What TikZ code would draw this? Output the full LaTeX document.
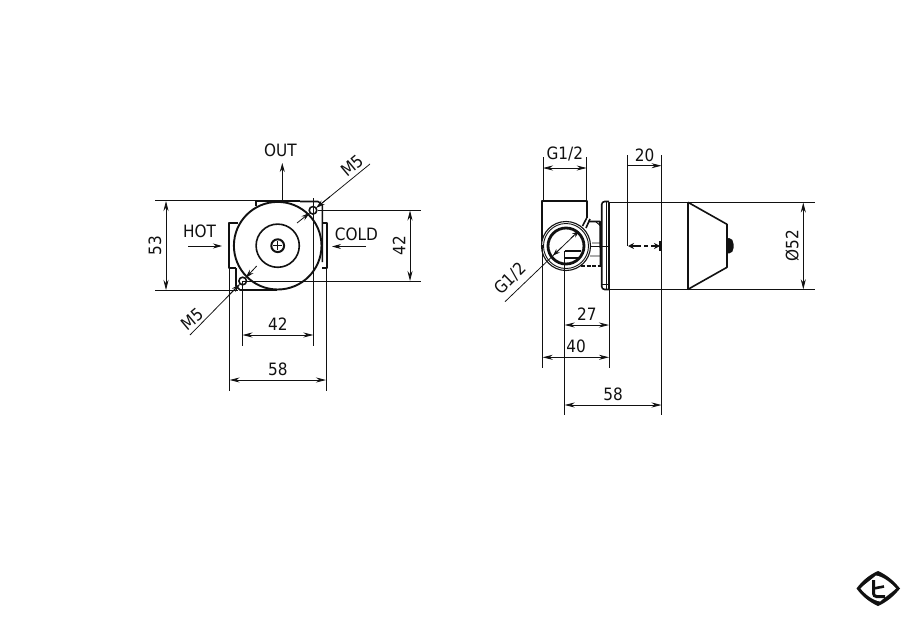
\documentclass[tikz,border=0pt]{standalone}
\usepackage{fontspec}
\setmainfont[FakeStretch=0.9]{DejaVu Sans}
\usetikzlibrary{arrows.meta}
\definecolor{ink}{HTML}{111111}
\tikzset{
  outline/.style={draw=ink,line width=1.6pt,line join=round},
  fine/.style={draw=ink,line width=0.9pt},
  extline/.style={draw=ink,line width=0.75pt},
  dimline/.style={draw=ink,line width=0.8pt,{Stealth[length=10pt,width=5pt]}-{Stealth[length=10pt,width=5pt]}},
  oneway/.style={draw=ink,line width=0.8pt,-{Stealth[length=9pt,width=5pt]}},
  lab/.style={font=\fontsize{17}{20}\selectfont,text=ink,inner sep=0pt}
}
\begin{document}
\begin{tikzpicture}[x=1pt,y=-1pt]
\useasboundingbox (0,0) rectangle (922,632);
\fill[white] (0,0) rectangle (922,632);
% ---------- left view: body
\draw[outline] (255.7,206) -- (255.7,200.7) -- (300,200.7);
\draw[outline] (300,201.5) -- (318,201.5) -- (322.3,205) -- (322.3,262);
\draw[outline] (236,268) -- (236,286) -- (240,290) -- (277,290);
\draw[outline] (238,223) -- (228.7,223) -- (228.7,268) -- (236,268);
\draw[outline,line width=1.1pt] (322,268) -- (327,268) -- (327,223) -- (323,223);
\draw[outline,line width=1.9pt] (277.7,245.7) circle[radius=43.8];
\draw[outline] (277.7,245.7) circle[radius=21.6];
\draw[outline,line width=2pt] (277.7,245.7) circle[radius=6.4];
\draw[fine,line width=1.4pt] (273,245.7) -- (282.4,245.7) (277.7,241) -- (277.7,250.4);
\draw[outline] (313,210.3) circle[radius=3.8];
\draw[outline] (242.7,281) circle[radius=3.8];
% extension lines
\draw[extline] (155,200.7) -- (255.7,200.7);
\draw[extline] (155,290) -- (238,290);
\draw[extline] (318,210.3) -- (421,210.3);
\draw[extline] (243,281) -- (421,281);
\draw[extline] (229.6,268) -- (229.6,391);
\draw[extline] (242.5,281) -- (242.5,346);
\draw[extline] (313.3,198) -- (313.3,346);
\draw[extline] (326,268) -- (326,391);
% dimensions
\draw[dimline] (166,201) -- (166,290) node[midway,lab,rotate=90,yshift=11pt] {53};
\draw[dimline] (410,210.5) -- (410,281) node[midway,lab,rotate=90,yshift=11pt] {42};
\draw[dimline] (242.5,335) -- (313.3,335) node[midway,lab,yshift=11pt] {42};
\draw[dimline] (229.6,380) -- (326,380) node[midway,lab,yshift=11pt] {58};
% arrows and labels
\draw[oneway] (282.3,200.7) -- (282.3,163);
\node[lab] (out) at (280.5,150) {OUT};
\draw[oneway] (188,246) -- (222,246);
\node[lab] (hot) at (199.5,231.5) {HOT};
\draw[oneway] (366,246.5) -- (332,246.5);
\node[lab] (cold) at (356.5,234) {COLD};
% M5 leaders
\draw[extline] (370,164) -- (318.5,206);
\draw[oneway] (330,196.6) -- (316,208);
\draw[oneway] (297,223) -- (310,212.7);
\node[lab,rotate=40] (m5a) at (352,165.5) {M5};
\draw[extline] (190,335) -- (239,285);
\draw[oneway] (229,295) -- (240,284);
\draw[oneway] (256.7,266) -- (245.5,278);
\node[lab,rotate=40] (m5b) at (192,319) {M5};
% ---------- right view
\draw[outline] (542,245) -- (542,201) -- (586.7,201) -- (586.7,218);
\draw[outline] (586.7,218) -- (582.5,226);
\draw[outline] (590,219) -- (586,228);
\draw[outline] (588,221.5) -- (600,221.5) -- (600.5,266);
\draw[fine] (592,243) -- (601,243) (590,246.5) -- (609,246.5) (590,256) -- (601,256) (596,222) -- (601,226);
\draw[outline,dash pattern=on 4pt off 1.5pt] (581,266) -- (601,266);
\draw[outline,rounded corners=3pt] (609,201.5) -- (601.7,201.5) -- (601.7,289.5) -- (609,289.5);
\draw[fine] (606,201.5) -- (606,289.5);
\draw[fine] (602,284) -- (609,284);
\draw[outline] (609,202.3) -- (688,202.3) -- (688,289.3) -- (609,289.3) -- cycle;
\draw[outline] (688,202.3) -- (727,224.3) -- (727,267.3) -- (688,289.3);
\fill[ink,rounded corners=2pt] (727,238) -- (731,238) -- (733.5,242) -- (733.5,250) -- (731,253.5) -- (727,253.5) -- cycle;
\filldraw[white,draw=ink,line width=1.1pt] (566,246) circle[radius=24.5];
\draw[fine] (566,246) circle[radius=22.5];
\draw[ink,line width=2.8pt] (566,246) circle[radius=18];
\draw[fine,line width=1.3pt] (564.7,251) -- (581,251) (564.7,258) -- (579,258);
\draw[extline] (543,157) -- (543,201);
\draw[extline] (586.7,157) -- (586.7,201);
\draw[dimline] (543,168) -- (586.7,168) node[midway,lab,yshift=14pt] {G1/2};
\draw[extline] (627.3,155) -- (627.3,246);
\draw[extline] (661.5,155) -- (661.5,415);
\draw[draw=ink,line width=0.8pt,-{Stealth[length=10pt,width=5pt]}] (627.3,165.7) -- (661.5,165.7);
\node[lab] (v20) at (644.5,155) {20};
% dashed centre mark
\draw[ink,line width=2.2pt,dash pattern=on 4pt off 3pt] (637,246) -- (653,246);
\draw[ink,line width=1.2pt,{Stealth[length=6pt,width=6pt]}-] (628,246) -- (637,246);
\draw[ink,line width=1.2pt,-{Stealth[length=6pt,width=6pt]}] (651,246) -- (660,246);
\draw[ink,line width=2.4pt] (660.5,241) -- (660.5,251);
% O52
\draw[extline] (688,202.3) -- (815,202.3);
\draw[extline] (688,289.3) -- (815,289.3);
\draw[dimline] (803.3,202.5) -- (803.3,289.3) node[midway,lab,rotate=90,yshift=11pt] {Ø52};
% lower dimensions
\draw[extline] (542.7,245) -- (542.7,368);
\draw[extline] (564.7,251) -- (564.7,415);
\draw[extline] (609,289) -- (609,368);
\draw[dimline] (564.7,325) -- (609,325) node[midway,lab,yshift=11pt] {27};
\draw[dimline] (542.7,357.3) -- (609,357.3);
\node[lab] (v40) at (576,346) {40};
\draw[dimline] (564.7,405) -- (661.5,405) node[midway,lab,yshift=11pt] {58};
% G1/2 leader
\draw[extline] (505,301.7) -- (574,235.5);
\draw[ink,line width=0.8pt,-{Stealth[length=7pt,width=5pt]}] (561,248) -- (553,255.5);
\draw[ink,line width=0.8pt,-{Stealth[length=7pt,width=5pt]}] (571,238) -- (579,231);
\node[lab,rotate=45] (g12) at (510.5,279) {G1/2};
% ---------- logo
\fill[ink] (856.5,588.5) .. controls (862,581) and (869,575) .. (878,571) .. controls (887,575) and (894,581) .. (900,588.5) .. controls (894,596) and (887,602) .. (878,606) .. controls (869,602) and (862,596) .. (856.5,588.5) -- cycle;
\fill[white] (860.5,588.5) .. controls (866,583) and (871,580) .. (876,575.5) .. controls (884,577) and (891,583) .. (896,588.5) .. controls (890,594) and (885,597) .. (880,601.5) .. controls (872,600) and (865,594) .. (860.5,588.5) -- cycle;
\draw[ink,line width=3pt,rounded corners=3pt] (873.5,580) -- (873.5,596.5) -- (885,596.5);
\draw[ink,line width=2.6pt] (873.5,588.5) -- (884,586.5);
\end{tikzpicture}
\end{document}
